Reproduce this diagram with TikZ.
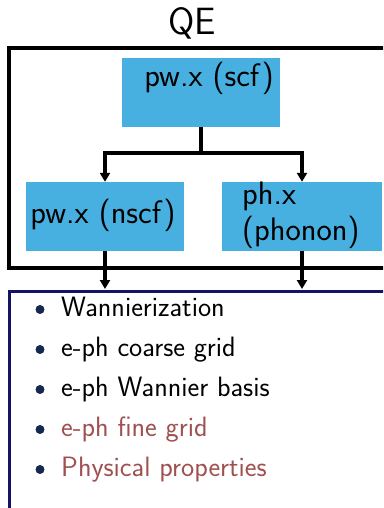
\documentclass[tikz,border=0pt]{standalone}
\usetikzlibrary{arrows.meta}
\definecolor{qeblue}{RGB}{72,176,224}
\definecolor{navy}{RGB}{20,20,100}
\definecolor{bulletc}{RGB}{20,40,80}
\definecolor{alertc}{RGB}{160,80,80}
\begin{document}
\begin{tikzpicture}[x=1pt,y=-1pt,
  qebox/.style={draw=none,fill=qeblue,rectangle,minimum width=158pt,minimum height=69pt,inner sep=0pt},
  txt/.style={font=\sffamily\fontsize{32.5}{38}\selectfont,inner sep=0pt},
  item/.style={font=\sffamily\fontsize{28}{34}\selectfont,inner sep=0pt,anchor=base west},
  bul/.style={circle,fill=bulletc,inner sep=0pt,minimum size=9pt},
  conn/.style={line width=3.2pt,-{Triangle[width=10pt,length=9pt]}},
  line/.style={line width=3.2pt}]
\useasboundingbox (0,0) rectangle (383,508);
\clip (0,0) rectangle (383,508);
\fill[white] (0,0) rectangle (383,508);
% title
\node[font=\sffamily\fontsize{38}{44}\selectfont,inner sep=0pt,anchor=base] (qe) at (192,35) {QE};
% outer QE frame
\draw[line width=3.2pt] (9,48) rectangle (395,268);
% boxes
\node[qebox] (scf) at (201,92.5) {};
\node[txt,anchor=base] (scft) at (209,87) {pw.x (scf)};
\node[qebox] (nscf) at (105,216.5) {};
\node[txt,anchor=base] (nscft) at (103,223) {pw.x (nscf)};
\node[qebox,minimum width=160pt] (ph) at (302,216.5) {};
\node[txt,anchor=base west] (pht1) at (242,204) {ph.x};
\node[txt,anchor=base west] (pht2) at (242,240) {(phonon)};
% connectors
\coordinate (split) at (201,153);
\coordinate (sl) at (105,153);
\coordinate (sr) at (302,153);
\draw[line] (scf.south) -- (split);
\draw[line,line cap=rect] (sl) -- (sr);
\draw[conn] (sl) -- (nscf.north);
\draw[conn] (sr) -- (ph.north);
% bottom box
\draw[navy,line width=3pt] (9,291) rectangle (395,520);
\coordinate (bl) at (105,289);
\coordinate (br) at (302,289);
\draw[conn] (nscf.south) -- (bl);
\draw[conn] (ph.south) -- (br);
% items
\node[bul] (b1) at (40,309.5) {};
\node[item] (i1) at (61,316) {Wannierization};
\node[bul] (b2) at (40,349.5) {};
\node[item] (i2) at (61,356) {e-ph coarse grid};
\node[bul] (b3) at (40,389.5) {};
\node[item] (i3) at (61,396) {e-ph Wannier basis};
\node[bul] (b4) at (40,429.5) {};
\node[item,text=alertc] (i4) at (61,436) {e-ph fine grid};
\node[bul] (b5) at (40,469.5) {};
\node[item,text=alertc] (i5) at (61,476) {Physical properties};
\end{tikzpicture}
\end{document}
